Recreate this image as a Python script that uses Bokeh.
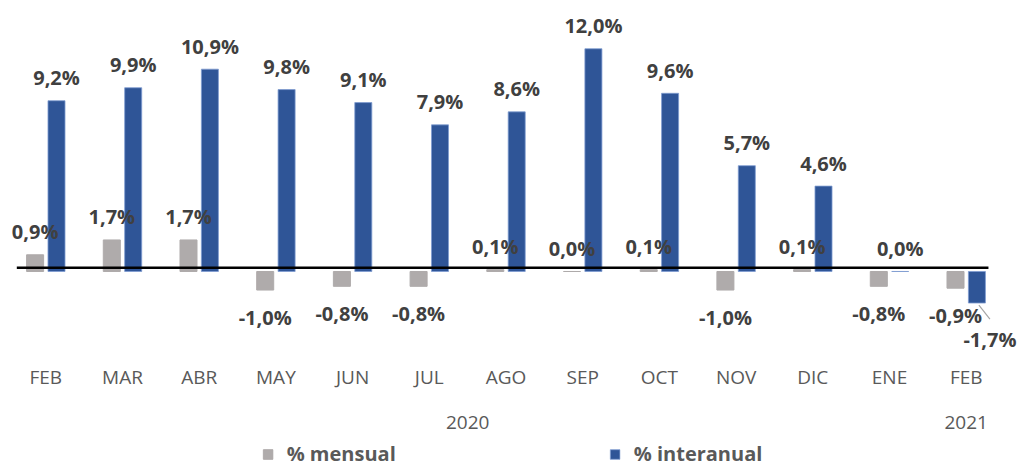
from bokeh.plotting import figure
from bokeh.models import (Range1d, FixedTicker, LinearAxis, Legend, LegendItem,
                          ColumnDataSource)
from bokeh.layouts import column
from bokeh.core.properties import value
from bokeh.embed import file_html
from bokeh.resources import INLINE

months = ["FEB", "MAR", "ABR", "MAY", "JUN", "JUL", "AGO", "SEP", "OCT", "NOV", "DIC", "ENE", "FEB"]
years = ["2020", "2021"]
mensual = [0.9, 1.7, 1.7, -1.0, -0.8, -0.8, 0.1, 0.0, 0.1, -1.0, 0.1, -0.8, -0.9]
interanual = [9.2, 9.9, 10.9, 9.8, 9.1, 7.9, 8.6, 12.0, 9.6, 5.7, 4.6, 0.0, -1.7]
series = ["% mensual", "% interanual"]

GRAY = "#AFABAB"
BLUE = "#2F5597"
BLUE_EDGE = "#7F9CD0"
LABEL = "#404040"
TICK = "#595959"
FONT = "Open Sans"

n = len(months)
idx = list(range(n))
OFF = 0.1395
W = 0.222
PX_X = 76.7   # px per category
PX_Y = 18.56  # px per percentage point

def fmt(v):
    return f"{v:.1f}".replace(".", ",") + "%"

src_m = ColumnDataSource(dict(
    x=[i - OFF for i in idx], top=mensual, lab=[fmt(v) for v in mensual],
    yo=[-23 if v >= 0 else 27 for v in mensual]))
src_i = ColumnDataSource(dict(
    x=[i + OFF for i in idx], top=interanual, lab=[fmt(v) for v in interanual],
    yo=[-23 if v >= 0 else 36 for v in interanual],
    xo=[0 if v >= 0 else 13 for v in interanual]))

p = figure(width=1024, height=438, output_backend="svg", toolbar_location=None,
           x_range=Range1d(-0.5906, 12.76), y_range=Range1d(-4.957, 14.60),
           y_axis_location=None, min_border_left=0, min_border_right=0,
           min_border_top=0, min_border_bottom=75, outline_line_color=None)
p.grid.visible = False

rm = p.vbar(x="x", top="top", bottom=0, width=W, source=src_m,
            fill_color=GRAY, line_color=GRAY)
ri = p.vbar(x="x", top="top", bottom=0, width=W, source=src_i,
            fill_color=BLUE, line_color=BLUE_EDGE, line_width=0.8)

# zero line
p.segment(x0=[-0.378], y0=[0.2], x1=[n - 1 + 0.29], y1=[0.2], line_color="black", line_width=2.5)

# data labels
p.text(x="x", y="top", text="lab", source=src_m, y_offset="yo",
       text_align="center", text_baseline="middle",
       text_font=value(FONT), text_font_style="bold", text_font_size="20px", text_color=LABEL)
p.text(x="x", y="top", text="lab", source=src_i, y_offset="yo", x_offset="xo",
       text_align="center", text_baseline="middle",
       text_font=value(FONT), text_font_style="bold", text_font_size="20px", text_color=LABEL)

# leader lines for displaced negative labels
neg = [i for i, v in enumerate(interanual) if v < 0]
p.segment(x0=[i + OFF + 2 / PX_X for i in neg], y0=[interanual[i] - 2 / PX_Y for i in neg],
          x1=[i + OFF + 13 / PX_X for i in neg], y1=[interanual[i] - 16 / PX_Y for i in neg],
          line_color="#A6A6A6", line_width=1.2)

ax = p.xaxis[0]
ax.ticker = FixedTicker(ticks=idx)
ax.major_label_overrides = {i: m for i, m in enumerate(months)}
ax2 = LinearAxis(ticker=FixedTicker(ticks=[5.5, n - 1]),
                 major_label_overrides={5.5: years[0], n - 1: years[1]})
p.add_layout(ax2, "below")
for a, so in ((ax, 0), (ax2, 23)):
    a.axis_line_color = None
    a.major_tick_line_color = None
    a.minor_tick_line_color = None
    a.major_tick_out = 0
    a.major_tick_in = 0
    a.major_label_standoff = so
    a.major_label_text_font = FONT
    a.major_label_text_font_size = "19px"
    a.major_label_text_color = TICK

# legend strip (renderers share the data but sit outside the visible range)
lg = figure(width=1024, height=29, output_backend="svg", toolbar_location=None,
            x_range=Range1d(100, 101), y_range=Range1d(100, 101),
            x_axis_location=None, y_axis_location=None,
            min_border_left=0, min_border_right=0, min_border_top=0, min_border_bottom=0,
            outline_line_color=None)
lg.grid.visible = False
lm = lg.vbar(x="x", top="top", width=W, source=src_m, fill_color=GRAY, line_color=GRAY)
li = lg.vbar(x="x", top="top", width=W, source=src_i, fill_color=BLUE,
             line_color=BLUE_EDGE, line_width=0.8)
legend = Legend(items=[LegendItem(label=series[0], renderers=[lm], index=0),
                       LegendItem(label=series[1], renderers=[li], index=0)],
                orientation="horizontal", location="bottom_center",
                glyph_width=12, glyph_height=12, label_standoff=13, spacing=213,
                padding=0, margin=0, border_line_color=None, background_fill_alpha=0,
                label_text_font=FONT, label_text_font_style="bold",
                label_text_font_size="20px", label_text_color=TICK)
lg.add_layout(legend, "center")

layout = column(p, lg, spacing=0)
open("out.html", "w").write(file_html(layout, INLINE))
